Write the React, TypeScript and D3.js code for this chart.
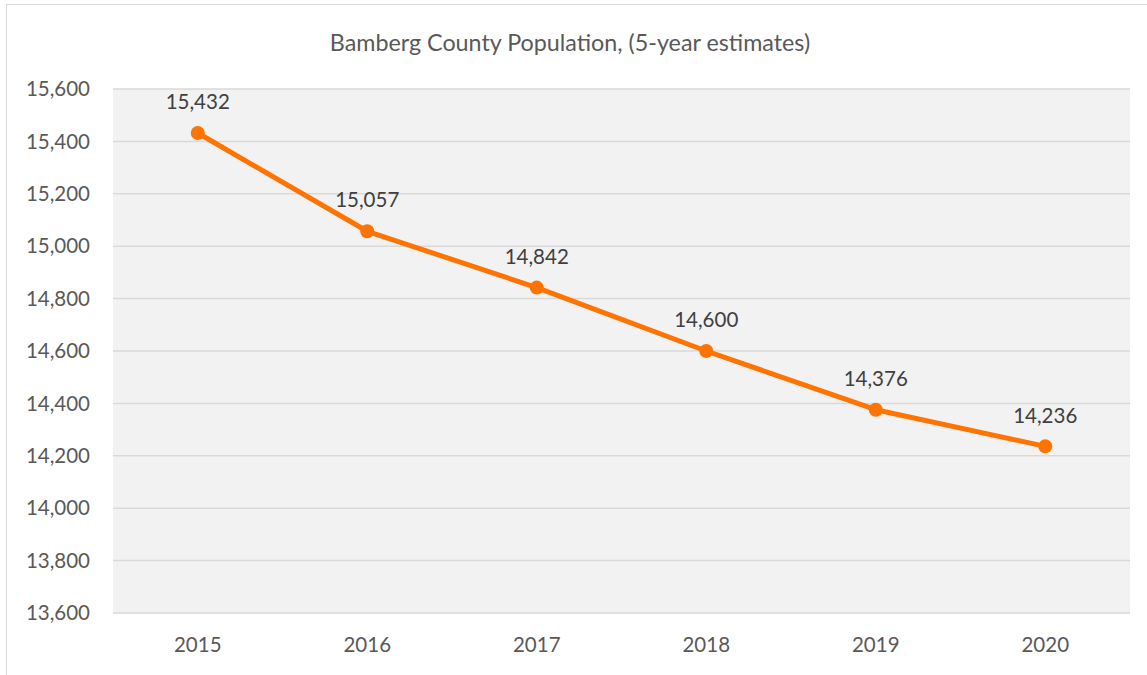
import React from "react";
import * as d3 from "d3";

const years = ["2015", "2016", "2017", "2018", "2019", "2020"];
const population = [15432, 15057, 14842, 14600, 14376, 14236];
const yTicks = [13600, 13800, 14000, 14200, 14400, 14600, 14800, 15000, 15200, 15400, 15600];
const title = "Bamberg County Population, (5-year estimates)";

const W = 1147;
const H = 675;
const plot = { left: 113, right: 1130, top: 89, bottom: 613 };
const FONT = "Lato, 'Open Sans', sans-serif";
const TEXT = "#595959";
const ORANGE = "#ff7300";

export default function App() {
  const x = d3.scaleBand<string>().domain(years).range([plot.left, plot.right]);
  const y = d3.scaleLinear().domain([13600, 15600]).range([plot.bottom, plot.top]);
  const fmt = d3.format(",");
  const line = d3
    .line<number>()
    .x((_, i) => (x(years[i]) as number) + x.bandwidth() / 2)
    .y((d) => y(d));

  return (
    <svg
      width={W}
      height={H}
      style={{ position: "absolute", left: 0, top: 0, background: "#fff" }}
    >
      <rect x={6.5} y={4.5} width={W + 10} height={H + 10} fill="#fff" stroke="#d9d9d9" strokeWidth={1} />
      <text x={570} y={43} dy="0.35em" textAnchor="middle" fontFamily={FONT} fontSize={23.3} fill={TEXT}>
        {title}
      </text>
      <rect
        x={plot.left}
        y={plot.top}
        width={plot.right - plot.left}
        height={plot.bottom - plot.top}
        fill="#f2f2f2"
      />
      {yTicks.map((t) => (
        <g key={t}>
          <line x1={plot.left} x2={plot.right} y1={y(t)} y2={y(t)} stroke="#d9d9d9" strokeWidth={1.5} />
          <text
            x={90}
            y={y(t)}
            dy="0.35em"
            textAnchor="end"
            fontFamily={FONT}
            fontSize={20.5}
            fill={TEXT}
          >
            {fmt(t)}
          </text>
        </g>
      ))}
      {years.map((yr) => (
        <text
          key={yr}
          x={(x(yr) as number) + x.bandwidth() / 2}
          y={645}
          dy="0.35em"
          textAnchor="middle"
          fontFamily={FONT}
          fontSize={20.5}
          fill={TEXT}
        >
          {yr}
        </text>
      ))}
      <path d={line(population) || ""} fill="none" stroke={ORANGE} strokeWidth={5} strokeLinejoin="round" />
      {population.map((v, i) => {
        const cx = (x(years[i]) as number) + x.bandwidth() / 2;
        const cy = y(v);
        return (
          <g key={i}>
            <circle cx={cx} cy={cy} r={7} fill={ORANGE} />
            <text
              x={cx}
              y={cy - 31}
              dy="0.35em"
              textAnchor="middle"
              fontFamily={FONT}
              fontSize={20.5}
              fill="#404040"
            >
              {fmt(v)}
            </text>
          </g>
        );
      })}
    </svg>
  );
}
